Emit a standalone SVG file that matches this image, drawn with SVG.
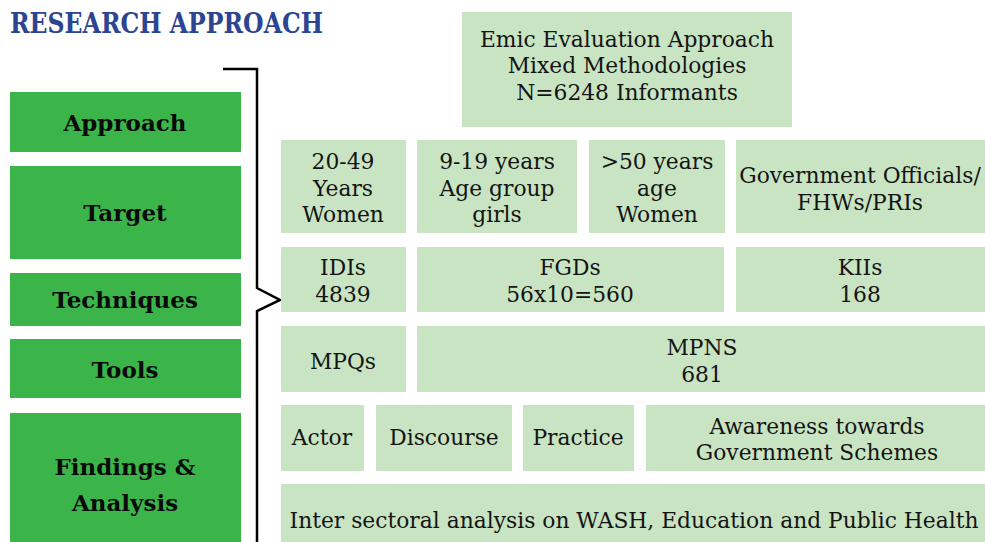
<svg xmlns="http://www.w3.org/2000/svg" width="985" height="542" viewBox="0 0 985 542">
  <style>
    .cat { fill: #3bb54a; }
    .box { fill: #c9e4c3; }
    .lbl { font-family: "DejaVu Serif", "Liberation Serif", serif; font-weight: bold; font-size: 23px; fill: #0a0a0a; text-anchor: middle; }
    .txt { font-family: "DejaVu Serif", "Liberation Serif", serif; font-size: 21.8px; fill: #141414; text-anchor: middle; }
    .title { font-family: "DejaVu Serif", "Liberation Serif", serif; font-weight: bold; font-size: 28px; fill: #2b4593; }
    .brace { fill: none; stroke: #000; stroke-width: 2.5; }
  </style>
  <rect width="985" height="542" fill="#fff"/>

  <text class="title" x="10" y="33" textLength="313" lengthAdjust="spacingAndGlyphs">RESEARCH APPROACH</text>

  <!-- category column -->
  <g id="cat-approach"><rect class="cat" x="10" y="92" width="231" height="60"/><text class="lbl" x="125" y="131">Approach</text></g>
  <g id="cat-target"><rect class="cat" x="10" y="166" width="231" height="93"/><text class="lbl" x="125" y="221">Target</text></g>
  <g id="cat-techniques"><rect class="cat" x="10" y="273" width="231" height="53"/><text class="lbl" x="125" y="308">Techniques</text></g>
  <g id="cat-tools"><rect class="cat" x="10" y="339" width="231" height="59"/><text class="lbl" x="125" y="378">Tools</text></g>
  <g id="cat-findings"><rect class="cat" x="10" y="413" width="231" height="129"/><text class="lbl" x="125" y="475">Findings &amp;</text><text class="lbl" x="125" y="511">Analysis</text></g>

  <!-- brace -->
  <g id="connectors">
    <path class="brace" d="M223,69 H257 V288 L280,300 L257,311 V542"/>
  </g>

  <!-- approach -->
  <g id="approach"><rect class="box" x="462" y="12" width="330" height="115"/>
    <text class="txt" x="627" y="47">Emic Evaluation Approach</text>
    <text class="txt" x="627" y="73">Mixed Methodologies</text>
    <text class="txt" x="627" y="100">N=6248 Informants</text></g>

  <!-- target -->
  <g id="target-women"><rect class="box" x="281" y="140" width="125" height="93"/>
    <text class="txt" x="343" y="169">20-49</text><text class="txt" x="343" y="196">Years</text><text class="txt" x="343" y="222">Women</text></g>
  <g id="target-girls"><rect class="box" x="417" y="140" width="160" height="93"/>
    <text class="txt" x="497" y="169">9-19 years</text><text class="txt" x="497" y="196">Age group</text><text class="txt" x="497" y="222">girls</text></g>
  <g id="target-older"><rect class="box" x="589" y="140" width="136" height="93"/>
    <text class="txt" x="657" y="169">&gt;50 years</text><text class="txt" x="657" y="196">age</text><text class="txt" x="657" y="222">Women</text></g>
  <g id="target-officials"><rect class="box" x="736" y="140" width="249" height="93"/>
    <text class="txt" x="860" y="183">Government Officials/</text><text class="txt" x="860" y="210">FHWs/PRIs</text></g>

  <!-- techniques -->
  <g id="tech-idis"><rect class="box" x="281" y="247" width="125" height="65"/>
    <text class="txt" x="343" y="275">IDIs</text><text class="txt" x="343" y="302">4839</text></g>
  <g id="tech-fgds"><rect class="box" x="417" y="247" width="307" height="65"/>
    <text class="txt" x="570" y="275">FGDs</text><text class="txt" x="570" y="302">56x10=560</text></g>
  <g id="tech-kiis"><rect class="box" x="736" y="247" width="249" height="65"/>
    <text class="txt" x="860" y="275">KIIs</text><text class="txt" x="860" y="302">168</text></g>

  <!-- tools -->
  <g id="tool-mpqs"><rect class="box" x="281" y="326" width="125" height="66"/>
    <text class="txt" x="343" y="369">MPQs</text></g>
  <g id="tool-mpns"><rect class="box" x="417" y="326" width="568" height="66"/>
    <text class="txt" x="702" y="355">MPNS</text><text class="txt" x="702" y="382">681</text></g>

  <!-- findings -->
  <g id="find-actor"><rect class="box" x="281" y="405" width="83" height="66"/>
    <text class="txt" x="322" y="445">Actor</text></g>
  <g id="find-discourse"><rect class="box" x="376" y="405" width="136" height="66"/>
    <text class="txt" x="444" y="445">Discourse</text></g>
  <g id="find-practice"><rect class="box" x="523" y="405" width="111" height="66"/>
    <text class="txt" x="578" y="445">Practice</text></g>
  <g id="find-awareness"><rect class="box" x="646" y="405" width="339" height="66"/>
    <text class="txt" x="817" y="434">Awareness towards</text><text class="txt" x="817" y="460">Government Schemes</text></g>
  <g id="find-intersectoral"><rect class="box" x="281" y="484" width="704" height="58"/>
    <text class="txt" x="634" y="528">Inter sectoral analysis on WASH, Education and Public Health</text></g>
</svg>
